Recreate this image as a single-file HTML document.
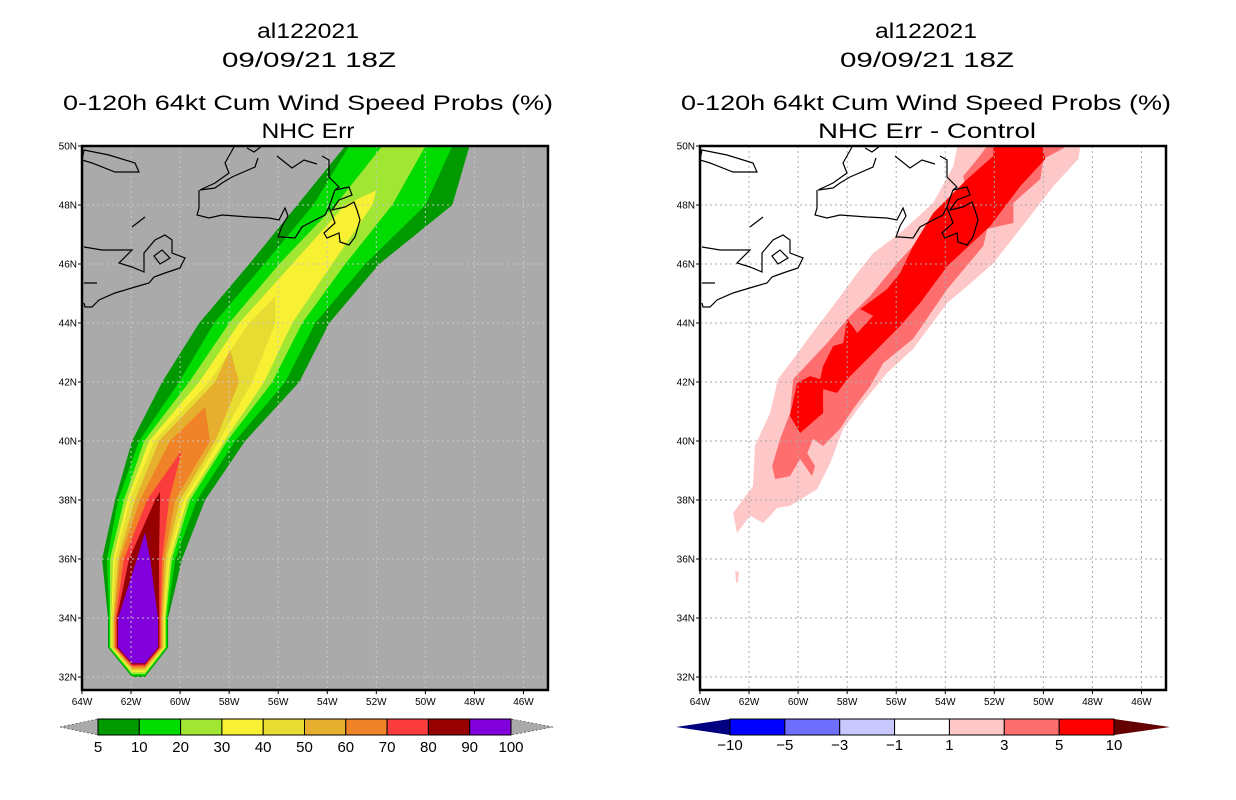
<!DOCTYPE html>
<html><head><meta charset="utf-8"><title>al122021 wind speed probs</title>
<style>
html,body{margin:0;padding:0;background:#fff;}
svg{display:block;font-family:"Liberation Sans",sans-serif;}
</style></head>
<body>
<svg id="fig" width="1236" height="800" viewBox="0 0 1236 800" xmlns="http://www.w3.org/2000/svg">
<defs>
<clipPath id="clipL"><rect x="82" y="146" width="466" height="544"/></clipPath>
<clipPath id="clipR"><rect x="700" y="146" width="466" height="544"/></clipPath>
<g id="coast">
<path d="M0,14 L2,4 L27,9 L53,17 L57,26 L33,26 L10,17 Z"/>
<path d="M152,1 L143,17 L147,27 L133,37 L118,44 L133,42 L140,37 L150,31 L173,21 L176,12 M117,44 L117,62 L115,69 L127,72 L140,69 L167,71 L187,72 L197,74 L203,62 L206,70 L200,80 L196,91 L200,91 L213,92 L220,81 L233,74 L243,69 L247,61 L253,44 L267,41 L270,49 L257,54 L250,64 L263,61 L272,56 L275,64 L278,74 L273,91 L267,99 L258,96 L257,87 L245,92 L242,87 L253,77 L247,61 M253,44 L257,41 L247,31 L247,14 L240,10 M195,10 L210,22 L222,14 L235,18 M165,2 L172,6 L180,0"/>
<path d="M2,101 L20,104 L50,104 L37,117 L50,121 L62,126 L62,107 L73,94 L83,89 L90,94 L90,107 L103,112 L98,122 L83,127 L72,131 L67,137 L53,141 L33,147 L17,154 L10,161 L3,161 L2,157 M2,137 L15,137 M50,81 L63,71 M72,110 L80,104 L88,112 L78,118 Z"/>
</g>
</defs>
<rect x="0" y="0" width="1236" height="800" fill="#fff"/>

<!-- titles left -->
<g font-size="21" fill="#000" text-anchor="middle">
<text x="308" y="38" textLength="102" lengthAdjust="spacingAndGlyphs">al122021</text>
<text x="309" y="67" textLength="174" lengthAdjust="spacingAndGlyphs">09/09/21 18Z</text>
<text x="308" y="110" textLength="490" lengthAdjust="spacingAndGlyphs">0-120h 64kt Cum Wind Speed Probs (%)</text>
<text x="308" y="138" textLength="93" lengthAdjust="spacingAndGlyphs">NHC Err</text>
</g>
<g font-size="21" fill="#000" text-anchor="middle">
<text x="926" y="38" textLength="102" lengthAdjust="spacingAndGlyphs">al122021</text>
<text x="927" y="67" textLength="174" lengthAdjust="spacingAndGlyphs">09/09/21 18Z</text>
<text x="926" y="110" textLength="490" lengthAdjust="spacingAndGlyphs">0-120h 64kt Cum Wind Speed Probs (%)</text>
<text x="927" y="138" textLength="218" lengthAdjust="spacingAndGlyphs">NHC Err - Control</text>
</g>

<g id="panelL">
<rect x="82" y="146" width="466" height="544" fill="#aaaaaa"/>
<g id="fillsL" clip-path="url(#clipL)"></g>
<g id="gridL"></g>
<use href="#coast" x="82" y="146" fill="none" stroke="#000" stroke-width="1.2"/>
<rect x="82" y="146" width="466" height="544" fill="none" stroke="#000" stroke-width="2.5"/>
<g id="axesL"></g>
</g>

<g id="panelR">
<rect x="700" y="146" width="466" height="544" fill="#fff"/>
<g id="fillsR" clip-path="url(#clipR)"></g>
<g id="gridR"></g>
<use href="#coast" x="700" y="146" fill="none" stroke="#000" stroke-width="1.2"/>
<rect x="700" y="146" width="466" height="544" fill="none" stroke="#000" stroke-width="2.5"/>
<g id="axesR"></g>
</g>

<g id="cbarL"></g>
<g id="cbarR"></g>
</svg>

<script>
// ---------- data ----------
const lonTicks = [64,62,60,58,56,54,52,50,48,46];
const latTicks = [50,48,46,44,42,40,38,36,34,32];

// Left panel: probability levels and colors
const probLevels = [5,10,20,30,40,50,60,70,80,90,100];
const probColors = ["#009a00","#00dc00","#a0e632","#f8f032","#e6dc32","#e6af2d","#f08228","#fa3c3c","#960000","#8200dc"];
// station latitudes and per-level contour edge longitudes (west edge, east edge)
const stationLats = [50,48,46,44,42,40,38,36,34,33];
const westEdges = [
 [-53.27,-53.10,-51.76],
 [-55.22,-54.57,-53.67,-53.27],
 [-57.18,-56.57,-55.96,-55.43],
 [-59.22,-58.61,-58.0,-57.59,-57.18],
 [-60.73,-60.04,-59.63,-59.22,-58.82,-58.57],
 [-61.96,-61.67,-61.47,-61.27,-61.06,-60.86,-60.41],
 [-62.65,-62.53,-62.29,-62.16,-62.04,-61.84,-61.63,-61.35,-61.02],
 [-63.18,-62.98,-62.86,-62.73,-62.65,-62.53,-62.45,-62.29,-62.08,-61.76],
 [-62.94,-62.90,-62.86,-62.81,-62.77,-62.72,-62.68,-62.63,-62.58,-62.53],
 [-62.94,-62.90,-62.86,-62.81,-62.77,-62.72,-62.68,-62.63,-62.58,-62.53]
];
const eastEdges = [
 [-48.20,-48.90,-50.0],
 [-48.90,-50.0,-51.35,-52.16],
 [-51.88,-52.45,-53.27,-53.80],
 [-53.92,-54.49,-55.02,-55.43,-56.12],
 [-55.14,-55.71,-56.24,-56.57,-57.06,-57.59],
 [-57.35,-57.76,-58.08,-58.20,-58.41,-58.57,-58.78],
 [-58.98,-59.31,-59.59,-59.71,-59.84,-60.0,-60.20,-60.45,-60.82],
 [-59.92,-60.20,-60.33,-60.41,-60.49,-60.57,-60.65,-60.73,-60.86,-61.22],
 [-60.49,-60.53,-60.58,-60.62,-60.67,-60.71,-60.76,-60.80,-60.85,-60.90],
 [-60.49,-60.53,-60.58,-60.62,-60.67,-60.71,-60.76,-60.80,-60.85,-60.90]
];
const northTips = [null,null,null,[-52.0,48.5],[-56.12,44.9],[-57.96,43.1],[-58.98,41.15],[-59.92,39.7],[-60.82,38.27],[-61.43,36.9]];
const southCapLon = [-61.96,-61.43];
const southCapLat = [32.0,32.05,32.1,32.16,32.21,32.26,32.32,32.37,32.42,32.47];

// Right panel: difference levels and colors
const diffLabels = ["-10","-5","-3","-1","1","3","5","10"];
const diffColors = ["#0000ff","#6e6eff","#c8c8ff","#ffffff","#ffc8c8","#ff6e6e","#ff0000"];
const diffTriColors = ["#000080","#640000"];
const diffLight = [[-53.51,50],[-48.49,50],[-48.57,49.56],[-49.59,48.64],[-50.94,47.19],[-52.04,46.03],[-53.10,45.25],[-53.92,44.68],[-55.31,43.12],[-56.37,42.31],[-57.47,41.19],[-58.16,40.41],[-58.69,39.25],[-59.22,38.37],[-60.33,37.80],[-60.86,37.73],[-61.14,37.46],[-61.43,37.22],[-61.96,37.46],[-62.49,36.88],[-62.65,37.56],[-61.84,38.47],[-61.76,39.83],[-61.14,40.95],[-60.82,42.10],[-60.20,42.78],[-59.51,43.56],[-58.57,44.58],[-57.59,45.69],[-56.94,46.37],[-55.84,47.05],[-54.49,48.07],[-53.67,49.32]];
const diffLightBlob = [[-62.57,35.6],[-62.41,35.55],[-62.45,35.2],[-62.53,35.2]];
const diffMid = [[-52.29,50],[-49.02,50],[-50.0,49.56],[-50.12,48.88],[-51.22,48.07],[-51.22,47.39],[-52.29,47.19],[-52.45,46.61],[-53.92,45.15],[-55.31,43.46],[-56.53,42.64],[-57.06,41.86],[-57.76,41.08],[-58.29,40.41],[-58.98,39.83],[-59.39,40.07],[-59.63,39.59],[-59.31,39.15],[-59.43,38.81],[-59.92,39.39],[-60.33,38.81],[-60.94,38.71],[-61.06,39.15],[-60.73,40.07],[-60.33,40.95],[-60.20,42.10],[-58.82,43.32],[-57.88,44.24],[-57.06,44.92],[-55.96,46.03],[-55.31,46.61],[-53.67,47.86],[-53.10,48.31],[-53.27,48.98],[-52.69,49.56]];
const diffHigh = [[-52.04,50],[-50.04,50],[-49.92,49.56],[-50.94,48.64],[-52.16,47.29],[-53.92,45.93],[-55.02,44.68],[-55.84,43.90],[-56.94,42.98],[-58.0,42.10],[-58.41,41.63],[-58.98,41.76],[-58.98,40.95],[-59.92,40.27],[-60.33,40.85],[-60.04,41.97],[-59.51,42.20],[-59.10,42.10],[-58.98,42.54],[-58.57,43.22],[-58.16,43.32],[-58.0,44.14],[-57.59,43.66],[-56.94,44.24],[-57.47,44.47],[-56.37,45.15],[-55.84,45.69],[-55.31,46.61],[-54.49,47.73],[-53.10,48.88],[-52.04,49.66]];

// ---------- axes ----------
const NS = "http://www.w3.org/2000/svg";
const Y0 = 146, PW = 466, PH = 544, LON0 = -64, LON1 = -45, LAT1 = 50, LAT0 = 31.56;
function xScale(x0, lon){ return x0 + (lon - LON0) / (LON1 - LON0) * PW; }
function yScale(lat){ return Y0 + (LAT1 - lat) / (LAT1 - LAT0) * PH; }
function mk(tag, attrs, parent){
  const e = document.createElementNS(NS, tag);
  for (const k in attrs) e.setAttribute(k, attrs[k]);
  parent.appendChild(e); return e;
}
function ptsStr(x0, pts){ return pts.map(p => xScale(x0,p[0]).toFixed(1)+","+yScale(p[1]).toFixed(1)).join(" "); }

function drawGridAxes(x0, gridId, axesId, gridColor){
  const g = document.getElementById(gridId), a = document.getElementById(axesId);
  lonTicks.forEach(t => {
    const x = xScale(x0, -t);
    if (t < 64) {
      const l = mk("line",{x1:x,y1:Y0,x2:x,y2:Y0+PH,stroke:gridColor,"stroke-width":1,"stroke-dasharray":"2,3"},g);
      
      
    }
    const tk = mk("line",{x1:x,y1:Y0+PH,x2:x,y2:Y0+PH+4,stroke:"#000","stroke-width":1},a);
    
    
    const tx = mk("text",{x:x,y:Y0+PH+15,"font-size":10,"text-anchor":"middle",fill:"#000"},a);
    tx.textContent = t + "W";
    
    
  });
  latTicks.forEach(t => {
    const y = yScale(t);
    if (t < 50) {
      const l = mk("line",{x1:x0,y1:y,x2:x0+PW,y2:y,stroke:gridColor,"stroke-width":1,"stroke-dasharray":"2,3"},g);
      
      
    }
    const tk = mk("line",{x1:x0-4,y1:y,x2:x0,y2:y,stroke:"#000","stroke-width":1},a);
    
    
    const tx = mk("text",{x:x0-5,y:y+3.5,"font-size":10,"text-anchor":"end",fill:"#000"},a);
    tx.textContent = t + "N";
    
    
  });
}

// ---------- left fills ----------
(function(){
  const g = document.getElementById("fillsL");
  for (let k = 0; k < probColors.length; k++){
    const pts = [];
    for (let s = 0; s < stationLats.length; s++)
      if (westEdges[s].length > k) pts.push([westEdges[s][k], stationLats[s]]);
    pts.push([southCapLon[0], southCapLat[k]]);
    pts.push([southCapLon[1], southCapLat[k]]);
    for (let s = stationLats.length - 1; s >= 0; s--)
      if (eastEdges[s].length > k) pts.push([eastEdges[s][k], stationLats[s]]);
    if (northTips[k]) pts.push(northTips[k]);
    const p = mk("polygon",{points:ptsStr(82, pts), fill:probColors[k]}, g);
    
    
  }
})();

// ---------- right fills ----------
(function(){
  const g = document.getElementById("fillsR");
  const layers = [[diffLight, diffColors[4], 'diff-contour-1'],[diffLightBlob, diffColors[4], 'diff-contour-1-blob'],[diffMid, diffColors[5], 'diff-contour-3'],[diffHigh, diffColors[6], 'diff-contour-5']];
  layers.forEach(L => {
    const p = mk("polygon",{points:ptsStr(700, L[0]), fill:L[1]}, g);
    
    
  });
})();

drawGridAxes(82, "gridL", "axesL", "#c8c8c8");
drawGridAxes(700, "gridR", "axesR", "#aaaaaa");

// ---------- colorbars ----------
(function(){
  const g = document.getElementById("cbarL");
  const bx0 = 98, bx1 = 511, by0 = 719, by1 = 735, n = probColors.length, w = (bx1-bx0)/n;
  const t1 = mk("polygon",{points:`60,727 ${bx0},${by0} ${bx0},${by1}`,fill:"#aaaaaa",stroke:"#555","stroke-width":0.8,"stroke-dasharray":"2,2"},g);
  
  
  const t2 = mk("polygon",{points:`553,727 ${bx1},${by0} ${bx1},${by1}`,fill:"#aaaaaa",stroke:"#555","stroke-width":0.8,"stroke-dasharray":"2,2"},g);
  
  
  for (let i=0;i<n;i++){
    const r = mk("rect",{x:bx0+i*w,y:by0,width:w,height:by1-by0,fill:probColors[i],stroke:"#000","stroke-width":1},g);
    
    
  }
  for (let i=0;i<=n;i++){
    const t = mk("text",{x:bx0+i*w,y:752,"font-size":15,"text-anchor":"middle",fill:"#000"},g);
    t.textContent = probLevels[i];
    
    
  }
})();
(function(){
  const g = document.getElementById("cbarR");
  const bx0 = 730, bx1 = 1114, by0 = 719, by1 = 735, n = diffColors.length, w = (bx1-bx0)/n;
  const t1 = mk("polygon",{points:`676,727 ${bx0},${by0} ${bx0},${by1}`,fill:diffTriColors[0]},g);
  
  
  const t2 = mk("polygon",{points:`1170,727 ${bx1},${by0} ${bx1},${by1}`,fill:diffTriColors[1]},g);
  
  
  for (let i=0;i<n;i++){
    const r = mk("rect",{x:bx0+i*w,y:by0,width:w,height:by1-by0,fill:diffColors[i],stroke:"#000","stroke-width":1},g);
    
    
  }
  for (let i=0;i<=n;i++){
    const t = mk("text",{x:bx0+i*w,y:750,"font-size":15,"text-anchor":"middle",fill:"#000"},g);
    t.textContent = diffLabels[i].replace("-","\u2212");
    
    
  }
})();
</script>
</body></html>
